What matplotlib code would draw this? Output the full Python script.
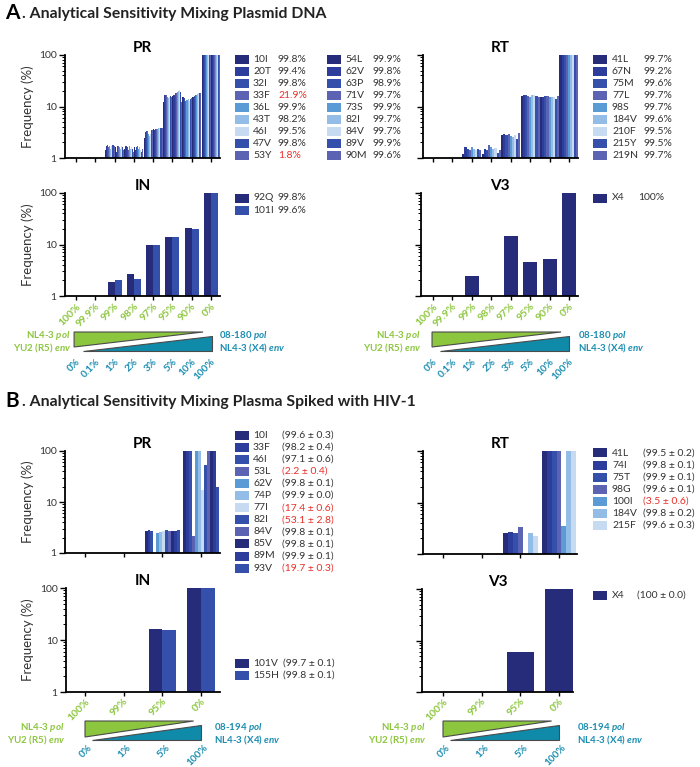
import matplotlib
matplotlib.use("Agg")
from matplotlib import pyplot as plt
from matplotlib import transforms
from matplotlib.patches import Polygon, Rectangle
import numpy as np

plt.rcParams["font.family"] = ["Lato", "DejaVu Sans"]
plt.rcParams["mathtext.fontset"] = "custom"
plt.rcParams["mathtext.rm"] = "Lato:bold"
plt.rcParams["mathtext.it"] = "Lato:italic:bold"

# ---------------- data ----------------
cats_a = ["100%", "99.9%", "99%", "98%", "97%", "95%", "90%", "0%"]
spike_a = ["0%", "0.1%", "1%", "2%", "3%", "5%", "10%", "100%"]
cats_b = ["100%", "99%", "95%", "0%"]
spike_b = ["0%", "1%", "5%", "100%"]

# A. plasmid DNA
pr_a_muts = ["10I", "20T", "32I", "33F", "36L", "43T", "46I", "47V", "53Y",
             "54L", "62V", "63P", "71V", "73S", "82I", "84V", "89V", "90M"]
pr_a_cons = [99.8, 99.4, 99.8, 21.9, 99.9, 98.2, 99.5, 99.8, 1.8,
             99.9, 99.8, 98.9, 99.7, 99.9, 99.7, 99.7, 99.9, 99.6]
pr_a_freq = [
    [0] * 18,
    [0] * 18,
    [1.4, 1.7, 1.8, 1.6, 1.7, 1.5, 1.7, 1.8, 1.7, 1.6, 1.3, 1.7, 1.7, 1.6, 1.5, 1.7, 1.6, 1.4],
    [1.5, 1.7, 1.6, 1.4, 1.7, 1.5, 1.6, 1.5, 1.3, 1.6, 1.4, 1.6, 1.7, 1.5, 1.6, 1.4, 1.3, 1.5],
    [2.4, 3.2, 3.4, 3.3, 2.9, 2.7, 2.9, 3.5, 3.5, 3.6, 3.5, 3.6, 3.7, 3.7, 3.8, 3.8, 3.8, 3.9],
    [12.0, 16.5, 17.0, 16.5, 15.0, 14.5, 15.0, 16.0, 15.5, 16.0, 17.0, 18.0, 18.5, 19.0, 20.0, 20.5, 19.0, 12.0],
    [15.0, 15.5, 14.5, 13.0, 13.5, 14.0, 13.0, 14.0, 14.5, 15.0, 15.5, 16.0, 16.5, 17.0, 17.5, 18.0, 18.0, 18.0],
    [100] * 18,
]

rt_a_muts = ["41L", "67N", "75M", "77L", "98S", "184V", "210F", "215Y", "219N"]
rt_a_cons = [99.7, 99.2, 99.6, 99.7, 99.7, 99.6, 99.5, 99.5, 99.7]
rt_a_freq = [
    [0] * 9,
    [0] * 9,
    [1.2, 1.65, 1.5, 1.4, 1.6, 1.5, 1.45, 1.5, 1.4],
    [1.2, 1.5, 1.45, 1.75, 1.6, 1.5, 1.55, 1.25, 1.45],
    [2.8, 2.9, 2.8, 2.9, 2.7, 2.6, 2.8, 2.3, 3.1],
    [16.0, 16.5, 17.0, 16.0, 15.5, 16.5, 17.0, 16.0, 15.0],
    [15.5, 15.5, 16.0, 16.0, 15.5, 15.5, 15.0, 14.0, 16.0],
    [100] * 9,
]

in_a_muts = ["92Q", "101I"]
in_a_cons = [99.8, 99.6]
in_a_freq = [[0, 0], [0, 0], [1.9, 2.0], [2.7, 2.1], [9.8, 9.6],
             [14.2, 14.1], [20.5, 19.8], [100, 100]]

v3_a_muts = ["X4"]
v3_a_cons = [100]
v3_a_freq = [[0], [0], [2.5], [0], [14.5], [4.5], [5.3], [100]]

# B. spiked plasma
pr_b_muts = ["10I", "33F", "46I", "53L", "62V", "74P", "77I", "82I",
             "84V", "85V", "89M", "93V"]
pr_b_cons = [99.6, 98.2, 97.1, 2.2, 99.8, 99.9, 17.4, 53.1, 99.8, 99.8, 99.9, 19.7]
pr_b_sd = [0.3, 0.4, 0.6, 0.4, 0.1, 0.0, 0.6, 2.8, 0.1, 0.1, 0.1, 0.3]
pr_b_freq = [
    [0] * 12,
    [0] * 12,
    [2.7, 2.8, 2.7, 0, 2.5, 2.6, 2.7, 2.8, 2.7, 2.7, 2.7, 2.8],
    [100, 100, 100, 2.2, 100, 100, 17.4, 53.1, 100, 100, 100, 19.7],
]

rt_b_muts = ["41L", "74I", "75T", "98G", "100I", "184V", "215F"]
rt_b_cons = [99.5, 99.8, 99.9, 99.6, 3.5, 99.8, 99.6]
rt_b_sd = [0.2, 0.1, 0.1, 0.1, 0.6, 0.2, 0.3]
rt_b_freq = [
    [0] * 7,
    [0] * 7,
    [2.6, 2.7, 2.6, 3.4, 0, 2.6, 2.2],
    [100, 100, 100, 100, 3.5, 100, 100],
]

in_b_muts = ["101V", "155H"]
in_b_cons = [99.7, 99.8]
in_b_sd = [0.1, 0.1]
in_b_freq = [[0, 0], [0, 0], [16.0, 15.5], [100, 100]]

v3_b_muts = ["X4"]
v3_b_cons = [100]
v3_b_sd = [0.0]
v3_b_freq = [[0], [0], [6.0], [100]]

# ---------------- style ----------------
NAVY = "#262b7a"
DBLUE = "#2d3d9c"
MBLUE = "#3550ab"
SLATE = "#5c63b3"
SKY = "#5b9bd5"
LIGHT = "#93bde6"
PALE = "#c6daf1"
cycle9 = [NAVY, DBLUE, MBLUE, SLATE, SKY, LIGHT, PALE, MBLUE, SLATE]
GREEN = "#8cc63e"
TEAL = "#1a8db0"
TEAL_FILL = "#0f8aa8"
RED = "#e8302a"
TXT = "#333333"

W, H = 700, 767
fig = plt.figure(figsize=(W / 100, H / 100), dpi=100)


def fy(y):
    return 1 - y / H


def add_ax(x0, x1, y0, y1, t0, t1, n):
    ax = fig.add_axes([x0 / W, fy(y1), (x1 - x0) / W, (y1 - y0) / H])
    step = (t1 - t0) / (n - 1)
    ax.set_xlim((x0 - t0) / step, (x1 - t0) / step)
    return ax


def bars(ax, freq, colors, group_w, title, ylabels):
    freq = np.array(freq, dtype=float)
    ncat, nmut = freq.shape
    bw = group_w / nmut
    x = np.arange(ncat)
    for j in range(nmut):
        v = freq[:, j]
        ax.bar(x - group_w / 2 + bw * (j + 0.5), np.where(v > 1, v - 1, 0), bottom=1,
               width=bw, color=colors[j], linewidth=0)
    ax.set_yscale("log")
    ax.set_ylim(1, 100)
    ax.set_yticks([1, 10, 100])
    ax.set_yticklabels(["1", "10", "100"])
    ax.set_xticks(x)
    ax.set_xticklabels([])
    for s in ["top", "right"]:
        ax.spines[s].set_visible(False)
    for s in ["left", "bottom"]:
        ax.spines[s].set_linewidth(1.3)
    ax.tick_params(axis="y", which="major", length=4, width=1, labelsize=7.5, pad=2,
                   labelleft=ylabels, labelcolor=TXT)
    ax.tick_params(axis="y", which="minor", length=2, width=0.7)
    ax.tick_params(axis="x", length=3, width=1)
    ax.set_facecolor("none")
    pos = ax.get_position()
    fig.text((pos.x0 + pos.x1) / 2, pos.y1 + 7 / H, title, ha="center", va="center",
             fontsize=11, fontweight="bold", color="black")
    if ylabels:
        fig.text(28 / W, (pos.y0 + pos.y1) / 2, "Frequency (%)", rotation=90,
                 ha="center", va="center", fontsize=9.5, color=TXT)


def mixing_key(ax, cats, spikes, y_cat, y_spike, dx_spike, tri, left_x, right_x, y_txt, strain):
    trans = transforms.blended_transform_factory(ax.transData, fig.transFigure)
    t_cat = transforms.offset_copy(trans, fig=fig, x=3, y=0, units="dots")
    t_sp = transforms.offset_copy(trans, fig=fig, x=dx_spike, y=0, units="dots")
    for i, c in enumerate(cats):
        ax.text(i, fy(y_cat), c, transform=t_cat, rotation=45, ha="right", va="center",
                rotation_mode="anchor", color=GREEN, fontsize=7.5, fontweight="bold")
    for i, s in enumerate(spikes):
        ax.text(i, fy(y_spike), s, transform=t_sp, rotation=45, ha="right", va="center",
                rotation_mode="anchor", color=TEAL, fontsize=7.2, fontweight="bold")
    gl, gtip, bl, br, gt, gb, bt, bb = tri
    ax.add_patch(Polygon([(gl, fy(gt)), (gtip, fy(gt)), (gl, fy(gb))], closed=True,
                         transform=trans, clip_on=False, facecolor=GREEN,
                         edgecolor="#4a4a4a", linewidth=0.8))
    ax.add_patch(Polygon([(bl, fy(bb)), (br, fy(bb)), (br, fy(bt))], closed=True,
                         transform=trans, clip_on=False, facecolor=TEAL_FILL,
                         edgecolor="#4a4a4a", linewidth=0.8))
    kw = dict(va="center", fontsize=7, fontweight="bold")
    fig.text(left_x / W, fy(y_txt[0]), r"NL4-3 $\mathit{pol}$", ha="right", color=GREEN, **kw)
    fig.text(left_x / W, fy(y_txt[1]), r"YU2 (R5) $\mathit{env}$", ha="right", color=GREEN, **kw)
    fig.text(right_x / W, fy(y_txt[0]), strain + r" $\mathit{pol}$", ha="left", color=TEAL, **kw)
    fig.text(right_x / W, fy(y_txt[1]), r"NL4-3 (X4) $\mathit{env}$", ha="left", color=TEAL, **kw)


def legend(xp, xl, xv, y0, dy, muts, cons, colors, sd=None):
    for k, m in enumerate(muts):
        y = y0 + k * dy
        fig.patches.append(Rectangle((xp / W, fy(y + 4.5)), 14 / W, 9 / H,
                                     transform=fig.transFigure, facecolor=colors[k],
                                     edgecolor="none"))
        fig.text(xl / W, fy(y), m, ha="left", va="center", fontsize=7.5, color=TXT)
        if sd is None:
            val = f"{cons[k]:g}%"
        else:
            val = f"({cons[k]:g} ± {sd[k]:.1f})"
        fig.text(xv / W, fy(y), val, ha="left", va="center", fontsize=7.5,
                 color=RED if cons[k] < 90 else TXT)


# ---------------- headings ----------------
fig.text(5 / W, fy(13), "A", ha="left", va="center", fontsize=15, fontweight="bold")
fig.text(22 / W, fy(14), ". Analytical Sensitivity Mixing Plasmid DNA", ha="left",
         va="center", fontsize=11.3, fontweight="bold", color="#222222")
fig.text(5 / W, fy(401), "B", ha="left", va="center", fontsize=15, fontweight="bold")
fig.text(22 / W, fy(402), ". Analytical Sensitivity Mixing Plasma Spiked with HIV-1",
         ha="left", va="center", fontsize=11.3, fontweight="bold", color="#222222")

# ---------------- panel A ----------------
ax = add_ax(65, 220, 55, 158, 76, 211, 8)
bars(ax, pr_a_freq, cycle9 + cycle9, 0.98, "PR", True)
legend(235, 253, 278, 59, 12, pr_a_muts[:9], pr_a_cons[:9], cycle9)
legend(327, 345, 372, 59, 12, pr_a_muts[9:], pr_a_cons[9:], cycle9)

ax = add_ax(423, 578, 55, 158, 433, 569, 8)
bars(ax, rt_a_freq, cycle9, 0.98, "RT", False)
legend(593, 612, 643, 59, 12, rt_a_muts, rt_a_cons, cycle9)

ax = add_ax(65, 220, 193, 296, 76, 211, 8)
bars(ax, in_a_freq, [NAVY, MBLUE], 0.72, "IN", True)
legend(235, 253, 278, 198, 12.5, in_a_muts, in_a_cons, [NAVY, MBLUE])
mixing_key(ax, cats_a, spike_a, 305, 360, 3, (-0.1, 6.59, 0.36, 7.05, 332, 347, 336, 351),
           71, 219, (335, 348), "08-180")

ax = add_ax(421, 578, 193, 296, 433, 569, 8)
bars(ax, v3_a_freq, [NAVY], 0.72, "V3", False)
legend(593, 612, 638, 198, 12, v3_a_muts, v3_a_cons, [NAVY])
mixing_key(ax, cats_a, spike_a, 305, 360, 3, (-0.05, 6.59, 0.36, 7.0, 332, 347, 336, 351),
           421, 578, (335, 348), "08-180")

# ---------------- panel B ----------------
ax = add_ax(65, 220, 451, 553, 85, 201, 4)
bars(ax, pr_b_freq, cycle9 + cycle9[:3], 0.92, "PR", True)
legend(235, 253, 282, 435, 12.1, pr_b_muts, pr_b_cons, (cycle9 + cycle9)[:12], pr_b_sd)

ax = add_ax(423, 577, 451, 554, 443, 559, 4)
bars(ax, rt_b_freq, cycle9[:7], 0.9, "RT", False)
legend(593, 612, 643, 453, 12, rt_b_muts, rt_b_cons, cycle9[:7], rt_b_sd)

ax = add_ax(66, 220, 588, 692, 85, 201, 4)
bars(ax, in_b_freq, [NAVY, MBLUE], 0.7, "IN", True)
legend(235, 253, 283, 663, 12, in_b_muts, in_b_cons, [NAVY, MBLUE], in_b_sd)
mixing_key(ax, cats_b, spike_b, 700, 746, 6, (0.0, 2.81, 0.18, 3.0, 721, 737, 725, 740),
           65, 214, (727, 740), "08-194")

ax = add_ax(422, 573, 589, 692, 443, 559, 4)
bars(ax, v3_b_freq, [NAVY], 0.7, "V3", False)
legend(593, 612, 637, 595, 12, v3_b_muts, v3_b_cons, [NAVY], v3_b_sd)
mixing_key(ax, cats_b, spike_b, 700, 746, 6, (0.0, 2.81, 0.18, 3.0, 721, 737, 725, 740),
           426, 577, (727, 740), "08-194")

fig.savefig("out.png", dpi=100)
